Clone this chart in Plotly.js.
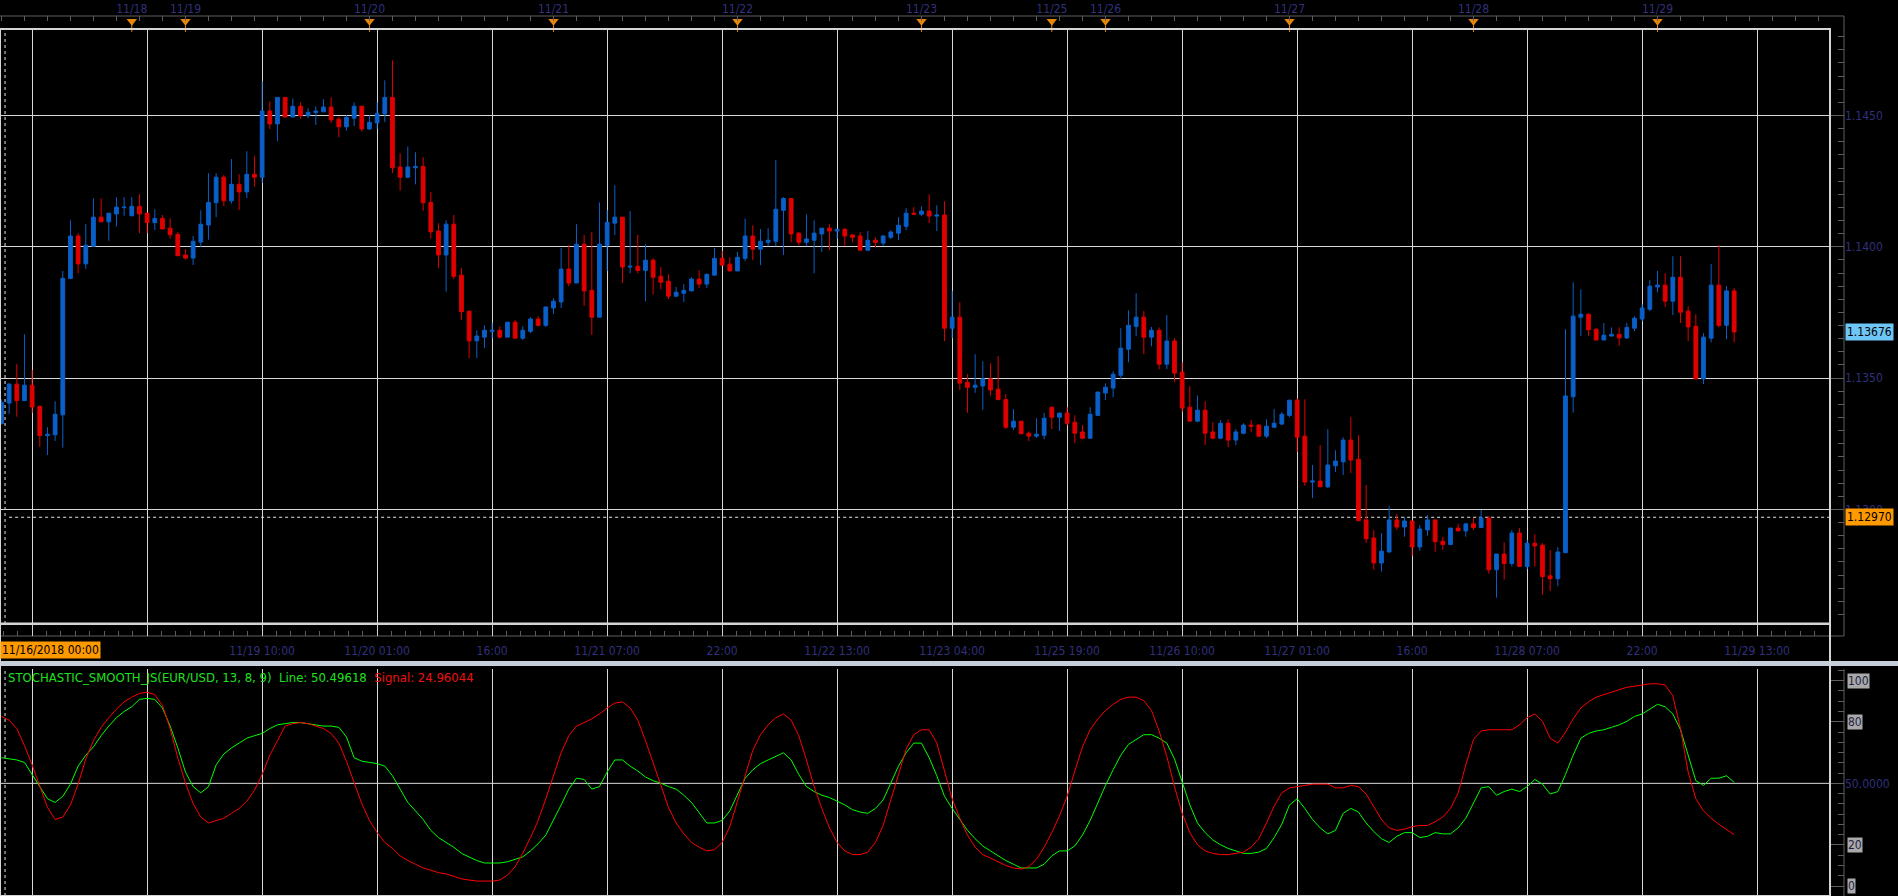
<!DOCTYPE html>
<html><head><meta charset="utf-8">
<script src="https://cdn.plot.ly/plotly-3.0.1.min.js"></script>
<style>html,body{margin:0;padding:0;background:#000;overflow:hidden;}#chart{width:1898px;height:896px;}</style>
</head><body><div id="chart"></div>
<script>
// EUR/USD hourly candles, 11/16/2018 00:00 .. 11/29 09:00 (trading hours only)
const priceOpen = [1.13326,1.13405,1.13477,1.13414,1.13473,1.13393,1.13281,1.13284,1.13360,1.13879,1.14041,1.13935,1.14002,1.14113,1.14095,1.14125,1.14149,1.14118,1.14154,1.14128,1.14092,1.14108,1.14071,1.14047,1.13969,1.13957,1.14018,1.14083,1.14168,1.14265,1.14175,1.14238,1.14209,1.14276,1.14265,1.14517,1.14468,1.14569,1.14494,1.14535,1.14499,1.14511,1.14514,1.14532,1.14486,1.14457,1.14490,1.14535,1.14449,1.14472,1.14506,1.14569,1.14304,1.14265,1.14301,1.14306,1.14169,1.14060,1.13969,1.14086,1.13892,1.13755,1.13642,1.13656,1.13678,1.13682,1.13656,1.13713,1.13652,1.13678,1.13725,1.13701,1.13767,1.13790,1.13915,1.13862,1.14010,1.13834,1.13732,1.14006,1.14090,1.14113,1.13923,1.13926,1.13910,1.13949,1.13888,1.13869,1.13812,1.13823,1.13832,1.13877,1.13858,1.13892,1.13956,1.13934,1.13908,1.13956,1.14041,1.13991,1.14017,1.14021,1.14139,1.14184,1.14052,1.14017,1.14025,1.14049,1.14071,1.14060,1.14067,1.14045,1.14041,1.13987,1.14025,1.14014,1.14036,1.14052,1.14078,1.14128,1.14124,1.14136,1.14117,1.14121,1.13690,1.13732,1.13484,1.13465,1.13470,1.13497,1.13458,1.13418,1.13313,1.13336,1.13290,1.13279,1.13282,1.13389,1.13351,1.13367,1.13332,1.13295,1.13271,1.13358,1.13443,1.13462,1.13511,1.13610,1.13697,1.13732,1.13656,1.13682,1.13553,1.13641,1.13523,1.13389,1.13336,1.13378,1.13295,1.13271,1.13328,1.13264,1.13290,1.13321,1.13321,1.13279,1.13313,1.13325,1.13358,1.13416,1.13279,1.13104,1.13108,1.13086,1.13166,1.13181,1.13264,1.13191,1.12960,1.12891,1.12796,1.12838,1.12960,1.12933,1.12956,1.12857,1.12922,1.12960,1.12879,1.12866,1.12929,1.12918,1.12945,1.12931,1.12967,1.12770,1.12830,1.12794,1.12910,1.12783,1.12871,1.12864,1.12747,1.12736,1.12835,1.13429,1.13732,1.13743,1.13686,1.13645,1.13660,1.13667,1.13653,1.13690,1.13725,1.13762,1.13847,1.13854,1.13793,1.13884,1.13755,1.13697,1.13497,1.13652,1.13854,1.13701,1.13832];
const priceHigh = [1.13419,1.13481,1.13553,1.13667,1.13531,1.13393,1.13313,1.13412,1.13908,1.14101,1.14052,1.14086,1.14184,1.14184,1.14128,1.14189,1.14189,1.14189,1.14200,1.14128,1.14143,1.14121,1.14108,1.14056,1.13991,1.14041,1.14139,1.14280,1.14280,1.14273,1.14334,1.14276,1.14364,1.14345,1.14630,1.14554,1.14569,1.14569,1.14565,1.14550,1.14528,1.14535,1.14562,1.14569,1.14496,1.14501,1.14550,1.14537,1.14501,1.14550,1.14634,1.14710,1.14356,1.14382,1.14360,1.14341,1.14208,1.14090,1.14101,1.14121,1.13919,1.13755,1.13682,1.13701,1.13710,1.13697,1.13713,1.13721,1.13697,1.13732,1.13736,1.13771,1.13804,1.13995,1.14006,1.14086,1.14045,1.14056,1.14169,1.14139,1.14234,1.14113,1.14136,1.14045,1.14010,1.13956,1.13923,1.13895,1.13847,1.13858,1.13884,1.13910,1.13899,1.13995,1.13984,1.13960,1.13980,1.14108,1.14082,1.14067,1.14071,1.14330,1.14189,1.14184,1.14056,1.14124,1.14101,1.14071,1.14086,1.14067,1.14071,1.14049,1.14056,1.14060,1.14036,1.14045,1.14063,1.14113,1.14147,1.14151,1.14154,1.14200,1.14158,1.14173,1.13832,1.13789,1.13515,1.13591,1.13564,1.13556,1.13584,1.13439,1.13382,1.13336,1.13297,1.13347,1.13367,1.13389,1.13367,1.13389,1.13358,1.13321,1.13389,1.13447,1.13480,1.13526,1.13690,1.13758,1.13823,1.13755,1.13695,1.13693,1.13740,1.13652,1.13560,1.13469,1.13434,1.13412,1.13332,1.13340,1.13343,1.13306,1.13328,1.13340,1.13325,1.13343,1.13382,1.13371,1.13416,1.13423,1.13419,1.13169,1.13245,1.13306,1.13225,1.13275,1.13351,1.13282,1.13093,1.12921,1.12910,1.13012,1.12982,1.12971,1.12956,1.12940,1.12979,1.12960,1.12895,1.12929,1.12945,1.12945,1.12967,1.12998,1.12975,1.12830,1.12875,1.12921,1.12929,1.12884,1.12906,1.12871,1.12845,1.12856,1.13686,1.13865,1.13838,1.13747,1.13690,1.13710,1.13693,1.13693,1.13710,1.13736,1.13782,1.13873,1.13908,1.13899,1.13964,1.13964,1.13773,1.13743,1.13671,1.13934,1.14006,1.13850,1.13843];
const priceLow = [1.13326,1.13364,1.13353,1.13414,1.13368,1.13238,1.13207,1.13261,1.13235,1.13879,1.13899,1.13916,1.14002,1.14095,1.14023,1.14077,1.14118,1.14118,1.14052,1.14052,1.14064,1.14068,1.14031,1.13966,1.13951,1.13931,1.14000,1.14027,1.14113,1.14155,1.14164,1.14140,1.14186,1.14229,1.14243,1.14449,1.14403,1.14494,1.14494,1.14488,1.14490,1.14464,1.14514,1.14472,1.14417,1.14442,1.14460,1.14438,1.14445,1.14449,1.14475,1.14281,1.14214,1.14261,1.14238,1.14137,1.14032,1.13919,1.13829,1.13877,1.13722,1.13576,1.13576,1.13614,1.13652,1.13652,1.13656,1.13652,1.13645,1.13671,1.13697,1.13695,1.13744,1.13767,1.13850,1.13862,1.13775,1.13664,1.13732,1.13908,1.14045,1.13862,1.13899,1.13899,1.13793,1.13819,1.13838,1.13801,1.13808,1.13790,1.13832,1.13843,1.13843,1.13892,1.13930,1.13908,1.13908,1.13945,1.13949,1.13930,1.14002,1.14002,1.13969,1.14017,1.14006,1.14002,1.13899,1.13980,1.13987,1.14030,1.14002,1.14017,1.13987,1.13987,1.13998,1.14002,1.14030,1.14025,1.14063,1.14124,1.14117,1.14090,1.14060,1.13641,1.13652,1.13455,1.13368,1.13444,1.13379,1.13433,1.13418,1.13307,1.13303,1.13288,1.13260,1.13272,1.13267,1.13306,1.13299,1.13320,1.13252,1.13267,1.13271,1.13358,1.13416,1.13427,1.13497,1.13560,1.13660,1.13591,1.13621,1.13534,1.13534,1.13484,1.13371,1.13336,1.13332,1.13245,1.13271,1.13271,1.13237,1.13245,1.13286,1.13295,1.13275,1.13271,1.13310,1.13321,1.13351,1.13219,1.13090,1.13043,1.13086,1.13082,1.13142,1.13131,1.13138,1.12957,1.12873,1.12770,1.12763,1.12835,1.12922,1.12896,1.12824,1.12842,1.12900,1.12839,1.12846,1.12866,1.12918,1.12896,1.12922,1.12931,1.12755,1.12664,1.12733,1.12783,1.12783,1.12772,1.12783,1.12675,1.12689,1.12707,1.12835,1.13368,1.13661,1.13661,1.13645,1.13645,1.13660,1.13623,1.13649,1.13679,1.13717,1.13755,1.13827,1.13771,1.13740,1.13710,1.13641,1.13497,1.13477,1.13636,1.13693,1.13648,1.13636];
const priceClose = [1.13408,1.13477,1.13414,1.13473,1.13390,1.13281,1.13286,1.13362,1.13880,1.14041,1.13935,1.14006,1.14113,1.14095,1.14128,1.14151,1.14151,1.14154,1.14125,1.14092,1.14108,1.14068,1.14046,1.13966,1.13957,1.14021,1.14086,1.14169,1.14265,1.14175,1.14238,1.14209,1.14276,1.14265,1.14517,1.14468,1.14569,1.14494,1.14535,1.14499,1.14512,1.14517,1.14532,1.14483,1.14457,1.14493,1.14535,1.14449,1.14474,1.14508,1.14569,1.14301,1.14265,1.14304,1.14306,1.14168,1.14057,1.13969,1.14086,1.13888,1.13753,1.13642,1.13660,1.13682,1.13682,1.13656,1.13713,1.13652,1.13682,1.13725,1.13701,1.13771,1.13793,1.13915,1.13862,1.14010,1.13832,1.13732,1.14010,1.14093,1.14113,1.13923,1.13926,1.13910,1.13949,1.13884,1.13865,1.13812,1.13827,1.13834,1.13877,1.13858,1.13895,1.13956,1.13930,1.13908,1.13960,1.14041,1.13991,1.14021,1.14025,1.14143,1.14184,1.14049,1.14017,1.14030,1.14052,1.14071,1.14060,1.14067,1.14041,1.14036,1.13987,1.14025,1.14017,1.14041,1.14056,1.14082,1.14128,1.14124,1.14136,1.14117,1.14121,1.13690,1.13732,1.13481,1.13465,1.13473,1.13497,1.13455,1.13418,1.13313,1.13336,1.13288,1.13279,1.13286,1.13347,1.13351,1.13367,1.13328,1.13290,1.13271,1.13362,1.13447,1.13465,1.13515,1.13614,1.13701,1.13732,1.13656,1.13682,1.13553,1.13641,1.13519,1.13386,1.13336,1.13378,1.13290,1.13271,1.13328,1.13264,1.13295,1.13321,1.13317,1.13279,1.13317,1.13328,1.13362,1.13416,1.13275,1.13104,1.13108,1.13086,1.13169,1.13184,1.13264,1.13188,1.12957,1.12888,1.12796,1.12841,1.12960,1.12933,1.12956,1.12857,1.12925,1.12960,1.12877,1.12866,1.12929,1.12918,1.12945,1.12931,1.12967,1.12770,1.12830,1.12794,1.12910,1.12783,1.12871,1.12861,1.12744,1.12736,1.12838,1.13432,1.13736,1.13743,1.13684,1.13645,1.13663,1.13667,1.13653,1.13693,1.13728,1.13767,1.13850,1.13854,1.13793,1.13884,1.13751,1.13695,1.13497,1.13656,1.13854,1.13701,1.13832,1.13676];

// Time axis: labelled grid positions (hour index) and day markers
const gridIdx = [4,19,34,49,64,79,94,109,124,139,154,169,184,199,214,229];
const gridLabels = ['','','11/19 10:00','11/20 01:00','16:00','11/21 07:00','22:00','11/22 13:00','11/23 04:00','11/25 19:00','11/26 10:00','11/27 01:00','16:00','11/28 07:00','22:00','11/29 13:00'];
const dayIdx = [17,24,48,72,96,120,137,144,168,192,216];
const dayLabels = ['11/18','11/19','11/20','11/21','11/22','11/23','11/25','11/26','11/27','11/28','11/29'];
const startLabel = '11/16/2018 00:00';
const startIdx = 0.47;

const priceTicks = [1.1300,1.1350,1.1400,1.1450];
const refLevel = 1.12970;
const lastPrice = 1.13676;

// Stochastic indicator (Line / Signal), one value per candle
const stochLine = [62.5,61.9,61.4,60.2,54.3,48.4,42.5,40.7,43.7,49.6,58.4,63.7,67.8,73.2,77.9,82.0,85.0,87.3,90.9,91.4,90.9,86.7,77.9,67.3,55.5,48.4,45.4,48.4,59.0,64.3,67.3,69.6,72.0,73.2,74.3,76.7,78.5,79.1,79.6,79.6,79.1,78.5,77.9,77.9,77.3,72.6,62.5,60.8,60.2,59.6,58.4,53.7,47.2,40.7,36.6,32.4,27.1,23.6,21.2,18.9,15.9,14.2,12.4,11.2,11.2,11.2,11.8,13.0,14.2,17.1,20.6,24.8,31.9,39.5,47.2,52.5,51.9,47.2,48.4,55.5,61.4,61.4,58.4,56.0,53.1,51.3,50.1,48.4,47.2,44.2,40.7,35.4,30.7,30.7,31.9,36.6,44.2,52.5,56.6,59.6,61.4,63.1,64.9,61.4,54.3,48.4,46.0,44.2,43.1,41.3,39.5,37.2,36.0,35.4,37.8,41.9,50.1,58.4,64.9,69.6,69.6,62.5,53.7,43.7,37.8,32.4,27.1,23.0,19.5,17.1,14.7,12.4,10.6,8.8,8.8,8.8,10.6,14.7,17.1,17.1,19.5,24.8,31.9,40.7,49.0,56.6,63.7,69.0,71.4,73.7,73.7,72.0,69.6,61.9,50.7,39.5,30.7,26.0,22.4,20.1,18.3,17.1,15.9,15.9,16.5,18.3,23.6,30.1,39.5,42.5,37.8,32.4,28.3,25.4,27.1,35.4,37.8,36.0,30.7,26.5,23.0,21.2,24.2,26.0,26.0,23.6,24.2,26.0,25.4,25.4,28.3,33.0,40.7,47.8,48.4,44.2,46.0,47.2,46.0,48.4,51.9,49.6,44.8,46.0,54.3,63.7,72.0,74.3,75.5,76.1,77.3,78.5,80.2,82.6,83.8,86.1,88.5,87.3,83.8,76.1,63.1,51.3,49.0,52.5,52.5,53.7,50.5];
const stochSignal = [82.6,80.8,76.7,68.4,59.0,48.4,38.3,32.4,33.6,39.5,49.6,61.9,70.8,77.3,82.0,86.1,89.7,92.0,93.8,94.4,93.2,87.9,76.7,62.5,50.1,40.1,33.6,30.7,31.9,33.0,35.4,37.8,41.3,46.6,54.3,63.7,70.8,77.9,79.1,79.6,79.1,77.9,76.7,74.3,69.6,60.8,50.7,40.1,31.9,26.0,21.2,18.3,14.7,12.4,10.6,8.8,7.7,6.5,5.9,4.7,3.5,2.9,2.4,2.4,2.4,2.9,5.3,9.4,15.9,23.6,31.9,42.5,54.3,64.9,73.2,77.9,79.6,81.4,83.8,86.7,89.1,89.7,86.7,80.8,70.8,60.2,49.6,38.3,30.7,25.4,21.2,18.9,17.1,17.7,21.2,28.9,41.3,54.3,66.1,73.7,78.5,82.0,83.8,80.8,73.2,61.4,48.4,37.8,28.3,21.2,17.1,15.3,15.3,16.5,21.2,29.5,41.3,54.3,66.7,73.7,76.1,76.1,69.6,55.5,42.5,33.0,24.8,18.9,15.3,13.6,11.8,10.0,8.8,8.3,9.4,13.0,18.9,26.0,34.2,43.7,56.0,67.8,76.1,81.4,85.5,88.5,90.9,92.0,92.0,90.3,85.5,75.5,63.1,48.4,35.4,26.0,20.1,17.1,15.9,15.3,15.3,15.9,16.5,18.9,23.0,30.7,38.9,45.4,47.8,48.4,49.0,49.6,49.6,49.6,47.8,47.8,49.0,48.4,44.8,38.9,32.4,28.3,27.1,27.7,28.9,29.5,29.5,31.3,33.6,37.8,45.4,59.0,71.4,75.5,76.1,76.1,76.1,76.1,78.5,82.0,83.8,80.2,72.0,69.6,74.9,81.4,86.7,89.7,92.0,93.2,94.4,95.6,96.8,97.3,97.9,98.5,98.5,97.9,92.6,76.7,55.5,42.5,36.6,33.0,30.1,27.7,25.0];
const stochTicks = [0,20,50,80,100];
const stochMid = 50;
const stochHeader = 'STOCHASTIC_SMOOTH_JS(EUR/USD, 13, 8, 9)';
const lineValueText = '50.49618';
const signalValueText = '24.96044';

// ---------- drawing ----------
const W = 1898, H = 896;
const px = v => v / W, py = v => 1 - v / H;
const X_END = px(1830), AX_POS = px(1844);
const xRange = [-0.19, 238.5];
const yRange = [1.125636, 1.148294];
const sRange = [-4.87, 105.7];
const FONT = '"DejaVu Sans Condensed", "DejaVu Sans", sans-serif';
const LABEL = '#30307c';
const GRID = '#d8d8d8';
const AXIS = '#5e5e5e';
const MARK = '#e8860c';
const idx = priceOpen.map((_, i) => i);

const traces = [
  { type: 'candlestick', x: idx, open: priceOpen, high: priceHigh, low: priceLow, close: priceClose,
    xaxis: 'x', yaxis: 'y', whiskerwidth: 0, hoverinfo: 'skip',
    increasing: { line: { color: '#0a5fc8', width: 1 }, fillcolor: '#0a5fc8' },
    decreasing: { line: { color: '#e00000', width: 1 }, fillcolor: '#e00000' } },
  // day markers in the top time strip (strip y-range 0..1)
  { type: 'scatter', mode: 'markers', x: dayIdx, y: dayIdx.map(() => 0.1), xaxis: 'x2', yaxis: 'y3',
    cliponaxis: false, hoverinfo: 'skip',
    marker: { symbol: 'line-ns', size: 6, color: MARK, line: { color: MARK, width: 1 } } },
  { type: 'scatter', mode: 'markers', x: dayIdx, y: dayIdx.map(() => 0.6), xaxis: 'x2', yaxis: 'y3',
    cliponaxis: false, hoverinfo: 'skip',
    marker: { symbol: 'triangle-down', size: 9, color: MARK, line: { width: 0 } } },
  { type: 'scatter', mode: 'lines', x: idx, y: stochLine, xaxis: 'x3', yaxis: 'y2',
    line: { color: '#00ff00', width: 1 }, hoverinfo: 'skip' },
  { type: 'scatter', mode: 'lines', x: idx, y: stochSignal, xaxis: 'x3', yaxis: 'y2',
    line: { color: '#ff0000', width: 1 }, hoverinfo: 'skip' }
];

const tickFont = { family: FONT, size: 12, color: LABEL };

const layout = {
  width: W, height: H, margin: { l: 0, r: 0, t: 0, b: 0 },
  paper_bgcolor: '#000', plot_bgcolor: '#000', showlegend: false, hovermode: false,
  xaxis: { domain: [0, X_END], range: xRange, anchor: 'free', position: py(636), side: 'bottom',
    showline: false, zeroline: false, ticks: 'inside', ticklen: 12, tickcolor: '#cfcfcf', tickwidth: 1,
    tickmode: 'array', tickvals: gridIdx, ticktext: gridLabels, tickfont: tickFont, ticklabelstandoff: 6,
    showgrid: true, gridcolor: GRID, gridwidth: 1, rangeslider: { visible: false }, fixedrange: true,
    minor: { ticks: 'inside', ticklen: 5, tickcolor: AXIS, tick0: 4, dtick: 1.875, showgrid: false } },
  xaxis2: { domain: [0, X_END], range: xRange, anchor: 'y3', side: 'top',
    showline: false, zeroline: false, ticks: '', tickmode: 'array', tickvals: dayIdx, ticktext: dayLabels,
    tickfont: tickFont, showgrid: false, fixedrange: true,
    minor: { ticks: 'inside', ticklen: 5, tickcolor: AXIS, tick0: 0, dtick: 3, showgrid: false } },
  yaxis3: { domain: [py(29), py(16)], range: [0, 1], anchor: 'x2', visible: false, fixedrange: true },
  yaxis: { domain: [py(624), py(29)], range: yRange, anchor: 'free', position: AX_POS, side: 'right',
    showline: false, zeroline: false, ticks: 'inside', ticklen: 14, tickcolor: AXIS,
    tickmode: 'array', tickvals: priceTicks, ticktext: priceTicks.map(v => v.toFixed(4)), tickfont: tickFont,
    showgrid: true, gridcolor: GRID, gridwidth: 1, fixedrange: true,
    minor: { ticks: 'inside', ticklen: 6, tickcolor: AXIS, tick0: 1.13, dtick: 0.0005, showgrid: false } },
  xaxis3: { domain: [0, X_END], range: xRange, anchor: 'y2', showticklabels: false, ticks: '',
    tickmode: 'array', tickvals: gridIdx, showgrid: true, gridcolor: GRID, gridwidth: 1,
    showline: false, zeroline: false, fixedrange: true },
  yaxis2: { domain: [0, py(669)], range: sRange, anchor: 'free', position: AX_POS, side: 'right',
    showline: false, zeroline: false, ticks: 'inside', ticklen: 14, tickcolor: AXIS,
    tickmode: 'array', tickvals: stochTicks, ticktext: stochTicks.map(v => v === stochMid ? v.toFixed(4) : ''),
    tickfont: tickFont, showgrid: false, fixedrange: true,
    minor: { ticks: 'inside', ticklen: 6, tickcolor: AXIS, tick0: 0, dtick: 5, showgrid: false } },
  shapes: [
    { type: 'rect', xref: 'paper', yref: 'paper', x0: 0, x1: 1, y0: py(666), y1: py(661),
      fillcolor: '#c6ced9', line: { width: 0 }, layer: 'above' },
    { type: 'rect', xref: 'paper', yref: 'paper', x0: -0.01, x1: AX_POS, y0: py(636), y1: py(16),
      line: { color: AXIS, width: 1 }, layer: 'below' },
    { type: 'line', xref: 'paper', yref: 'paper', x0: AX_POS, x1: AX_POS, y0: -0.01, y1: py(669),
      line: { color: AXIS, width: 1 }, layer: 'below' },
    { type: 'rect', xref: 'x domain', yref: 'y domain', x0: 0, x1: 1, y0: 0, y1: 1,
      line: { color: '#d4d4d4', width: 2 }, layer: 'above' },
    { type: 'rect', xref: 'x3 domain', yref: 'y2 domain', x0: 0, x1: 1, y0: 0, y1: 1.2,
      line: { color: '#d4d4d4', width: 2 }, layer: 'above' },
    { type: 'line', xref: 'x domain', yref: 'y', x0: 0.005, x1: 1, y0: refLevel, y1: refLevel,
      line: { color: '#e8e8e8', width: 1, dash: '3px,3px' }, layer: 'below' },
    { type: 'line', xref: 'x3 domain', yref: 'y2', x0: 0, x1: 1, y0: stochMid, y1: stochMid,
      line: { color: GRID, width: 1 }, layer: 'below' },
    { type: 'line', xref: 'x', yref: 'y domain', x0: startIdx, x1: startIdx, y0: 0, y1: 1,
      line: { color: '#e8e8e8', width: 1, dash: '3px,3px' }, layer: 'below' },
    { type: 'line', xref: 'x3', yref: 'y2 domain', x0: startIdx, x1: startIdx, y0: 0, y1: 1,
      line: { color: '#e8e8e8', width: 1, dash: '3px,3px' }, layer: 'below' }
  ],
  annotations: [
    { xref: 'paper', yref: 'paper', x: 0, y: py(649.5), xanchor: 'left', yanchor: 'middle', showarrow: false,
      text: startLabel, bgcolor: '#ff9900', borderpad: 1, font: { family: FONT, size: 12, color: '#000' } },
    { xref: 'paper', yref: 'y', x: px(1845), y: lastPrice, xanchor: 'left', yanchor: 'middle', showarrow: false,
      text: lastPrice.toFixed(5), bgcolor: '#6ec6f7', borderpad: 1, font: { family: FONT, size: 12, color: '#000' } },
    { xref: 'paper', yref: 'y', x: px(1845), y: refLevel, xanchor: 'left', yanchor: 'middle', showarrow: false,
      text: refLevel.toFixed(5), bgcolor: '#ff9900', borderpad: 1, font: { family: FONT, size: 12, color: '#000' } },
    { xref: 'paper', yref: 'paper', x: px(6), y: py(677), xanchor: 'left', yanchor: 'middle', showarrow: false,
      text: '<span style="color:#1ee01e">' + stochHeader + '  Line: ' + lineValueText + '</span>  <span style="color:#ee1111">Signal: ' + signalValueText + '</span>',
      font: { family: FONT, size: 13, color: '#1ee01e' } }
  ].concat(stochTicks.filter(v => v !== stochMid).map(v => ({
    xref: 'paper', yref: 'y2', x: px(1847), y: v, xanchor: 'left', yanchor: 'middle', showarrow: false,
    text: String(v), bgcolor: '#a9a9a9', borderpad: 0, font: { family: FONT, size: 12, color: '#1e1e46' } })))
};

Plotly.newPlot('chart', traces, layout, { displayModeBar: false, staticPlot: true });
</script>
</body></html>
